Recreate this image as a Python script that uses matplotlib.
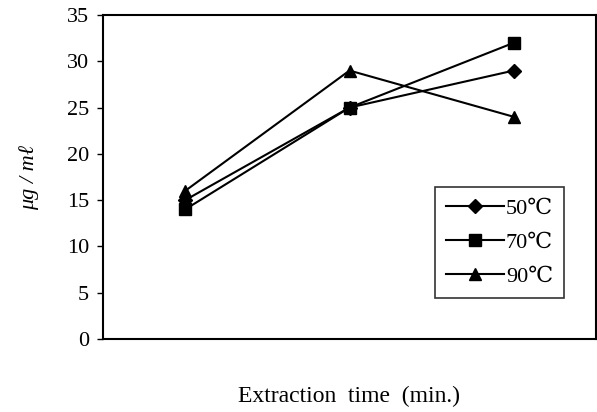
import matplotlib
matplotlib.use("Agg")
import matplotlib.pyplot as plt

times = [1, 2, 3]
series_labels = ["50\u2103", "70\u2103", "90\u2103"]
v50 = [15, 25, 29]
v70 = [14, 25, 32]
v90 = [16, 29, 24]
yticks = [0, 5, 10, 15, 20, 25, 30, 35]

plt.rcParams['font.family'] = ['Liberation Serif', 'DejaVu Serif']

fig = plt.figure(figsize=(5.97, 4.12), dpi=100)
ax = fig.add_axes([103/597, 73/412, 493/597, 324/412])

ax.plot(times, v50, color='black', marker='D', markersize=7, lw=1.5, label=series_labels[0])
ax.plot(times, v70, color='black', marker='s', markersize=8, lw=1.5, label=series_labels[1])
ax.plot(times, v90, color='black', marker='^', markersize=8, lw=1.5, label=series_labels[2])

ax.set_xlim(0.5, 3.5)
ax.set_ylim(0, 35)
ax.set_yticks(yticks)
ax.set_xticks([])
ax.tick_params(axis='y', labelsize=16, direction='out', length=4, width=1, pad=6)
for s in ax.spines.values():
    s.set_linewidth(1.5)

ax.set_ylabel("\u03bcg / m\u2113", fontsize=16, fontstyle='italic', labelpad=20)
ax.set_xlabel("Extraction  time  (min.)", fontsize=17, labelpad=34)

leg = ax.legend(loc='lower left', bbox_to_anchor=(0.673, 0.1265), frameon=True,
                fancybox=False, edgecolor='black', fontsize=16, handlelength=2.6,
                labelspacing=0.6, borderpad=0.5, handletextpad=0.1, borderaxespad=0)
leg.get_frame().set_linewidth(1.2)

fig.savefig("out.png", dpi=100)
